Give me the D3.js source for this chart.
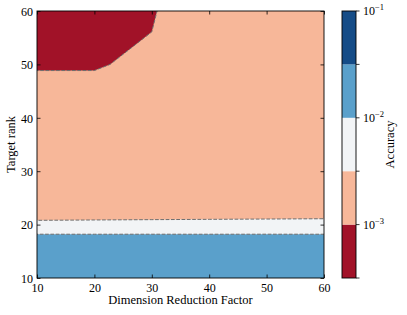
<!DOCTYPE html>
<html>
<head>
<meta charset="utf-8">
<script src="https://cdn.jsdelivr.net/npm/d3@7"></script>
<style>
  body { margin: 0; background: #fff; }
  text { font-family: "Liberation Serif", "DejaVu Serif", serif; fill: #000; }
</style>
</head>
<body>
<div id="chart"></div>
<script>
// grid of the contour plot
const factors = [10, 20, 30, 40, 50, 60];            // Dimension Reduction Factor
const ranks = [10, 15, 20, 25, 30, 35, 40, 45, 50, 55, 60]; // Target rank
// accuracy, one row per rank, one value per factor
const acc10 = [0.025, 0.025, 0.025, 0.025, 0.025, 0.025];
const acc15 = [0.0216, 0.0215, 0.0215, 0.0214, 0.0214, 0.0213];
const acc20 = [0.00348, 0.00351, 0.00354, 0.00357, 0.0036, 0.00363];
const acc25 = [0.0015, 0.0015, 0.0015, 0.0015, 0.0015, 0.0015];
const acc30 = [0.0014, 0.0014, 0.0014, 0.0014, 0.0014, 0.0014];
const acc35 = [0.0013, 0.0013, 0.0013, 0.0013, 0.0013, 0.0013];
const acc40 = [0.00125, 0.00125, 0.00125, 0.0013, 0.0013, 0.0014];
const acc45 = [0.0012, 0.0012, 0.0013, 0.0014, 0.0015, 0.0016];
const acc50 = [0.00094, 0.00094, 0.00116, 0.0013, 0.0015, 0.0016];
const acc55 = [0.0007, 0.000813, 0.001028, 0.0014, 0.0016, 0.0017];
const acc60 = [0.0007, 0.0007, 0.0009, 0.002, 0.002, 0.002];
const accuracy = [acc10, acc15, acc20, acc25, acc30, acc35, acc40, acc45, acc50, acc55, acc60];

const levelExp = [-3.5, -3, -2.5, -2, -1.5, -1];
const bandColors = ["#a11228", "#f7b799", "#f2f4f6", "#5aa0cb", "#154c87"];
const xTicks = [10, 20, 30, 40, 50, 60];
const yTicks = [10, 20, 30, 40, 50, 60];
const cbTickExp = [-1, -2, -3];

const W = 407, H = 315;
const margin = {top: 11, left: 37, right: 83, bottom: 37};
const x = d3.scaleLinear().domain([10, 60]).range([margin.left, W - margin.right]);
const y = d3.scaleLinear().domain([10, 60]).range([H - margin.bottom, margin.top]);

const svg = d3.select("#chart").append("svg")
    .attr("width", W).attr("height", H);

svg.append("clipPath").attr("id", "plotclip")
  .append("rect")
    .attr("x", x(10)).attr("y", y(60))
    .attr("width", x(60) - x(10)).attr("height", y(10) - y(60));

// contours
const nx = factors.length, ny = ranks.length;
const values = [];
accuracy.forEach(row => row.forEach(v => values.push(v)));
const levels = levelExp.map(e => Math.pow(10, e));
const contours = d3.contours().size([nx, ny]).thresholds(levels.slice(0, 5))(values);

const dfx = factors[1] - factors[0], dfy = ranks[1] - ranks[0];
const proj = d3.geoTransform({
  point: function(px, py) {
    this.stream.point(x(factors[0] + (px - 0.5) * dfx), y(ranks[0] + (py - 0.5) * dfy));
  }
});
const path = d3.geoPath(proj);

const g = svg.append("g").attr("clip-path", "url(#plotclip)");
g.selectAll("path.fill")
  .data(contours)
  .join("path")
    .attr("class", "fill")
    .attr("fill", (d, i) => bandColors[i])
    .attr("d", path);

g.selectAll("path.line")
  .data(contours.slice(1))
  .join("path")
    .attr("class", "line")
    .attr("fill", "none")
    .attr("stroke", "#6e6e6e")
    .attr("stroke-width", 1)
    .attr("stroke-dasharray", "3.7,1.6")
    .attr("d", path);

// axes, ticks pointing inwards
const tick = 3.5;
const xAxis = svg.append("g")
    .attr("transform", "translate(0," + y(10) + ")")
    .call(d3.axisBottom(x).tickValues(xTicks).tickSizeInner(-tick).tickSizeOuter(0).tickPadding(5));
const xTop = svg.append("g")
    .attr("transform", "translate(0," + y(60) + ")")
    .call(d3.axisTop(x).tickValues(xTicks).tickSizeInner(-tick).tickSizeOuter(0).tickFormat(""));
const yAxis = svg.append("g")
    .attr("transform", "translate(" + x(10) + ",0)")
    .call(d3.axisLeft(y).tickValues(yTicks).tickSizeInner(-tick).tickSizeOuter(0).tickPadding(4));
const yRight = svg.append("g")
    .attr("transform", "translate(" + x(60) + ",0)")
    .call(d3.axisRight(y).tickValues(yTicks).tickSizeInner(-tick).tickSizeOuter(0).tickFormat(""));

[xAxis, xTop, yAxis, yRight].forEach(a => {
  a.select(".domain").remove();
  a.selectAll("line").attr("stroke", "#000").attr("stroke-width", 0.8);
  a.selectAll("text").attr("font-size", 12).attr("font-family", null);
});
yAxis.selectAll("text").attr("dy", "0.35em");

svg.append("rect")
    .attr("x", x(10)).attr("y", y(60))
    .attr("width", x(60) - x(10)).attr("height", y(10) - y(60))
    .attr("fill", "none").attr("stroke", "#000").attr("stroke-width", 0.9);

svg.append("text")
    .attr("x", (x(10) + x(60)) / 2).attr("y", 304)
    .attr("text-anchor", "middle").attr("font-size", 12.5)
    .text("Dimension Reduction Factor");

svg.append("text")
    .attr("transform", "translate(15," + (y(35)) + ") rotate(-90)")
    .attr("text-anchor", "middle").attr("font-size", 12.5)
    .text("Target rank");

// colorbar
const cbX = 342, cbW = 14;
const yc = d3.scaleLog().domain([levels[0], levels[5]]).range([y(10), y(60)]);
const cb = svg.append("g");
cb.selectAll("rect.band")
  .data(d3.range(5))
  .join("rect")
    .attr("class", "band")
    .attr("x", cbX).attr("width", cbW)
    .attr("y", i => yc(levels[i + 1]))
    .attr("height", i => yc(levels[i]) - yc(levels[i + 1]))
    .attr("fill", i => bandColors[i]);
cb.append("rect")
    .attr("x", cbX).attr("y", yc(levels[5]))
    .attr("width", cbW).attr("height", yc(levels[0]) - yc(levels[5]))
    .attr("fill", "none").attr("stroke", "#000").attr("stroke-width", 0.9);
cb.selectAll("line.cbtick")
  .data(levels)
  .join("line")
    .attr("class", "cbtick")
    .attr("x1", cbX + cbW).attr("x2", cbX + cbW + tick)
    .attr("y1", d => yc(d)).attr("y2", d => yc(d))
    .attr("stroke", "#000").attr("stroke-width", 0.8);
const cbLab = cb.selectAll("text.cblab")
  .data(cbTickExp)
  .join("text")
    .attr("class", "cblab")
    .attr("x", cbX + cbW + 7)
    .attr("y", e => yc(Math.pow(10, e)) + 4)
    .attr("font-size", 12);
cbLab.append("tspan").text("10");
cbLab.append("tspan").attr("dy", -5).attr("font-size", 8.5).text(e => "\u2212" + Math.abs(e));

svg.append("text")
    .attr("transform", "translate(394," + y(35) + ") rotate(-90)")
    .attr("text-anchor", "middle").attr("font-size", 12.5)
    .text("Accuracy");
</script>
</body>
</html>
